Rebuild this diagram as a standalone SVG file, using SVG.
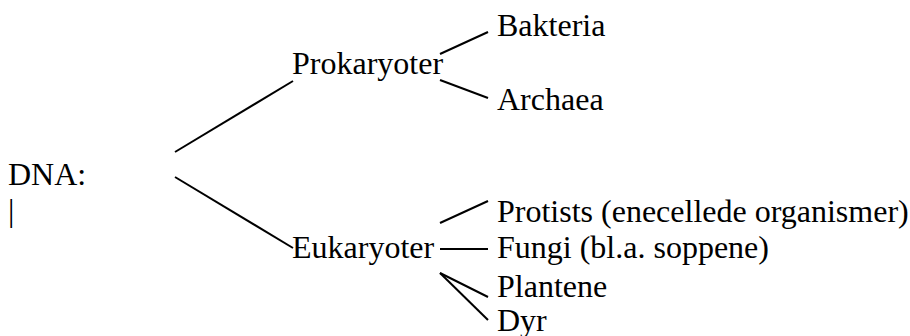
<svg xmlns="http://www.w3.org/2000/svg" width="910" height="336" viewBox="0 0 910 336">
<style>
text{font-family:"Liberation Serif","Times New Roman",serif;font-size:32px;fill:#000}
line{stroke:#000;stroke-width:2;fill:none}
</style>
<rect width="910" height="336" fill="#fff"/>
<g id="connectors">
<line x1="175" y1="152" x2="293" y2="81"/>
<line x1="175" y1="177" x2="293" y2="248"/>
<line x1="440" y1="54" x2="488" y2="32"/>
<line x1="440" y1="80" x2="488" y2="98"/>
<line x1="440" y1="223" x2="488" y2="201"/>
<line x1="440" y1="249" x2="488" y2="249"/>
<line x1="440" y1="273" x2="488" y2="297"/>
<line x1="440" y1="273" x2="488" y2="320"/>
</g>
<g id="dna"><text x="8" y="185">DNA:</text><text x="8" y="221">|</text></g>
<g id="prokaryoter"><text x="292" y="74">Prokaryoter</text></g>
<g id="bakteria"><text x="497" y="36">Bakteria</text></g>
<g id="archaea"><text x="497" y="110">Archaea</text></g>
<g id="eukaryoter"><text x="292" y="258">Eukaryoter</text></g>
<g id="protists"><text x="497" y="222">Protists (enecellede organismer)</text></g>
<g id="fungi"><text x="497" y="258">Fungi (bl.a. soppene)</text></g>
<g id="plantene"><text x="497" y="297">Plantene</text></g>
<g id="dyr"><text x="497" y="331">Dyr</text></g>
</svg>
